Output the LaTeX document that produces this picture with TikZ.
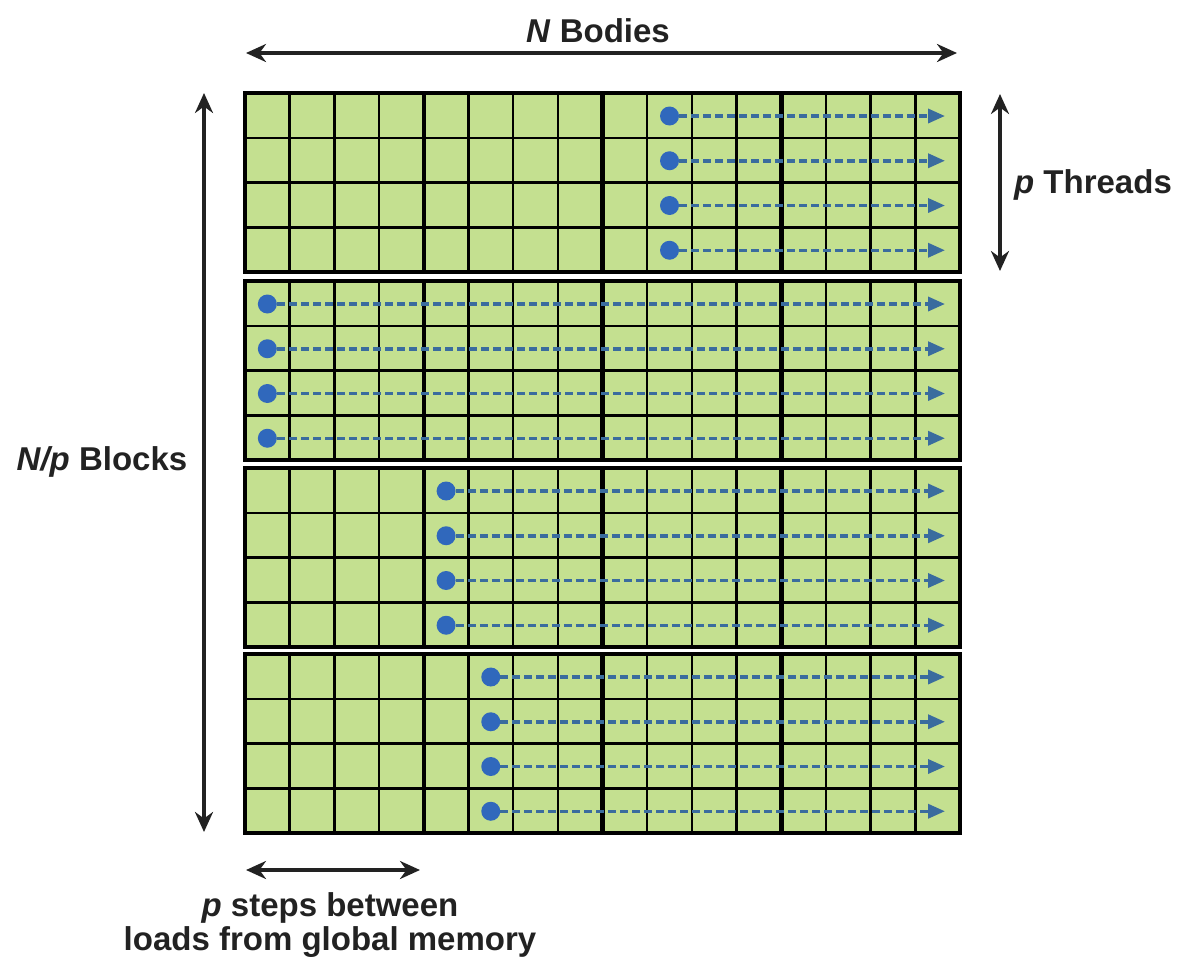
\documentclass[tikz,border=0pt]{standalone}
\usepackage{fontspec}
\setmainfont{Liberation Sans}
\usetikzlibrary{arrows.meta}
\definecolor{cellgreen}{RGB}{196,224,144}
\definecolor{dotblue}{RGB}{48,104,188}
\definecolor{flowblue}{RGB}{58,108,158}
\definecolor{inkgray}{RGB}{34,34,34}
\begin{document}
\begin{tikzpicture}[
        x=1pt, y=-1pt,
        cell/.style={draw=black, line width=2.5pt},
        blockline/.style={draw=black, line width=4.5pt},
        dimarrow/.style={draw=inkgray, line width=4pt, {Stealth[length=20pt,width=18pt]}-{Stealth[length=20pt,width=18pt]}},
        dot/.style={circle, fill=dotblue, inner sep=0pt, minimum size=19pt},
        flow/.style={draw=flowblue, line width=3.5pt, dash pattern=on 8pt off 4pt, -{Triangle[length=17pt,width=14pt]}},
        dimtext/.style={font=\fontsize{33}{34}\selectfont\bfseries, text=inkgray, align=center},
    ]
    \useasboundingbox (0,0) rectangle (1179,967);
    % blocks of p threads, first dot column per block
    \foreach \t/\c [count=\b] in {93/9,281/0,468/4,654/5}{
        \fill[cellgreen] (245,\t) rectangle ++(715,179);
        \foreach \i in {1,...,15} \draw[cell] ({245+\i*44.6875},\t) -- ++(0,179);
        \foreach \j in {1,2,3} \draw[cell] (245,{\t+\j*44.75}) -- ++(715,0);
        \foreach \i in {4,8,12} \draw[blockline] ({245+\i*44.6875},\t) -- ++(0,179);
        \draw[blockline] (245,\t) rectangle ++(715,179);
        \foreach \r in {0,...,3}{
            \node[dot] (dot-\b-\r) at ({245+(\c+0.5)*44.6875},{\t+23+\r*44.75}) {};
            \coordinate (end-\b-\r) at (945,{\t+23+\r*44.75});
            \draw[flow] (dot-\b-\r) -- (end-\b-\r);
        }
    }
    % dimensions
    \coordinate (bodies-l) at (246,53);
    \coordinate (bodies-r) at (957,53);
    \draw[dimarrow] (bodies-l) -- (bodies-r);
    \node[dimtext] (bodies) at (598,31) {\textit{N} Bodies};
    \coordinate (blocks-t) at (204,93);
    \coordinate (blocks-b) at (204,832);
    \draw[dimarrow] (blocks-t) -- (blocks-b);
    \node[dimtext] (blocks) at (102,462) {\textit{N/p} Blocks};
    \coordinate (threads-t) at (1000,94);
    \coordinate (threads-b) at (1000,271);
    \draw[dimarrow] (threads-t) -- (threads-b);
    \node[dimtext] (threads) at (1093,185) {\textit{p} Threads};
    \coordinate (steps-l) at (246,870);
    \coordinate (steps-r) at (420,870);
    \draw[dimarrow] (steps-l) -- (steps-r);
    \node[dimtext] (steps) at (330,925) {\textit{p} steps between\\loads from global memory};
\end{tikzpicture}
\end{document}
